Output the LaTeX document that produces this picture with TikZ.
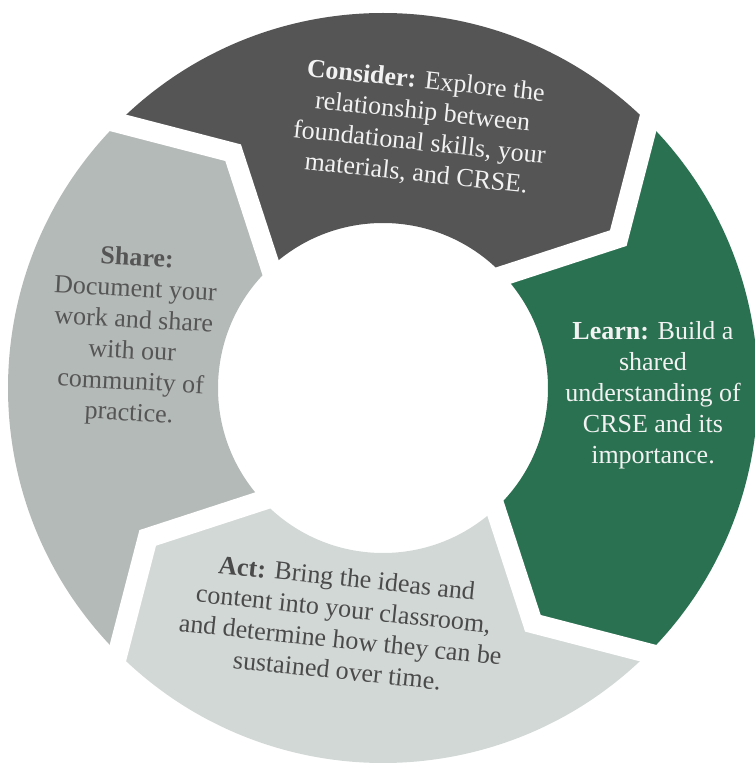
\documentclass[tikz,border=0pt]{standalone}
\usepackage{fontspec}
\setmainfont{Liberation Serif}
\usetikzlibrary{calc}
\definecolor{consfill}{HTML}{555555}
\definecolor{learnfill}{HTML}{2A7151}
\definecolor{sharefill}{HTML}{B4BAB7}
\definecolor{actfill}{HTML}{D2D8D6}
\definecolor{sharetext}{HTML}{555555}
\definecolor{acttext}{HTML}{4A4A4A}
\definecolor{lighttext}{HTML}{F2F2F2}
\begin{document}
\begin{tikzpicture}[x=1pt,y=1pt,
  gap/.style={draw=white, line width=20pt, line join=miter},
  lbl/.style={align=center, font=\fontsize{26}{31}\selectfont, inner sep=0pt}]
\useasboundingbox (0,0) rectangle (755,764);
\coordinate (C) at (383,376);
\foreach \b/\n in {45/a,-45/b,-135/c,135/d} {
  \coordinate (\n-o) at ($(C)+(\b:375)$);
  \coordinate (\n-m) at ($(C)+(\b-12.5:279)$);
  \coordinate (\n-i) at ($(C)+(\b-2:165)$);
}
% segments
\fill[consfill] (d-o) arc[start angle=135, end angle=45, radius=375] -- (a-m) -- (a-i)
  arc[start angle=43, end angle=133, radius=165] -- (d-m) -- cycle;
\fill[learnfill] (a-o) arc[start angle=45, end angle=-45, radius=375] -- (b-m) -- (b-i)
  arc[start angle=-47, end angle=43, radius=165] -- (a-m) -- cycle;
\fill[actfill] (b-o) arc[start angle=-45, end angle=-135, radius=375] -- (c-m) -- (c-i)
  arc[start angle=-137, end angle=-47, radius=165] -- (b-m) -- cycle;
\fill[sharefill] (c-o) arc[start angle=225, end angle=135, radius=375] -- (d-m) -- (d-i)
  arc[start angle=133, end angle=223, radius=165] -- (c-m) -- cycle;
% gaps
\foreach \n in {a,b,c,d} {
  \draw[gap] ($(\n-m)!1.25!(\n-o)$) -- (\n-m) -- ($(\n-m)!1.3!(\n-i)$);
}
% labels
\node[lbl, text=lighttext, rotate=-6] (consider) at (421,636)
  {\textbf{Consider:} Explore the\\relationship between\\foundational skills, your\\materials, and CRSE.};
\node[lbl, text=lighttext] (learn) at (653,369)
  {\textbf{Learn:} Build a\\shared\\understanding of\\CRSE and its\\importance.};
\node[lbl, text=sharetext, rotate=-3] (share) at (133,427)
  {\textbf{Share:}\\Document your\\work and share\\with our\\community of\\practice.};
\node[lbl, text=acttext, rotate=-6] (act) at (342,140)
  {\textbf{Act:} Bring the ideas and\\content into your classroom,\\and determine how they can be\\sustained over time.};
\end{tikzpicture}
\end{document}
